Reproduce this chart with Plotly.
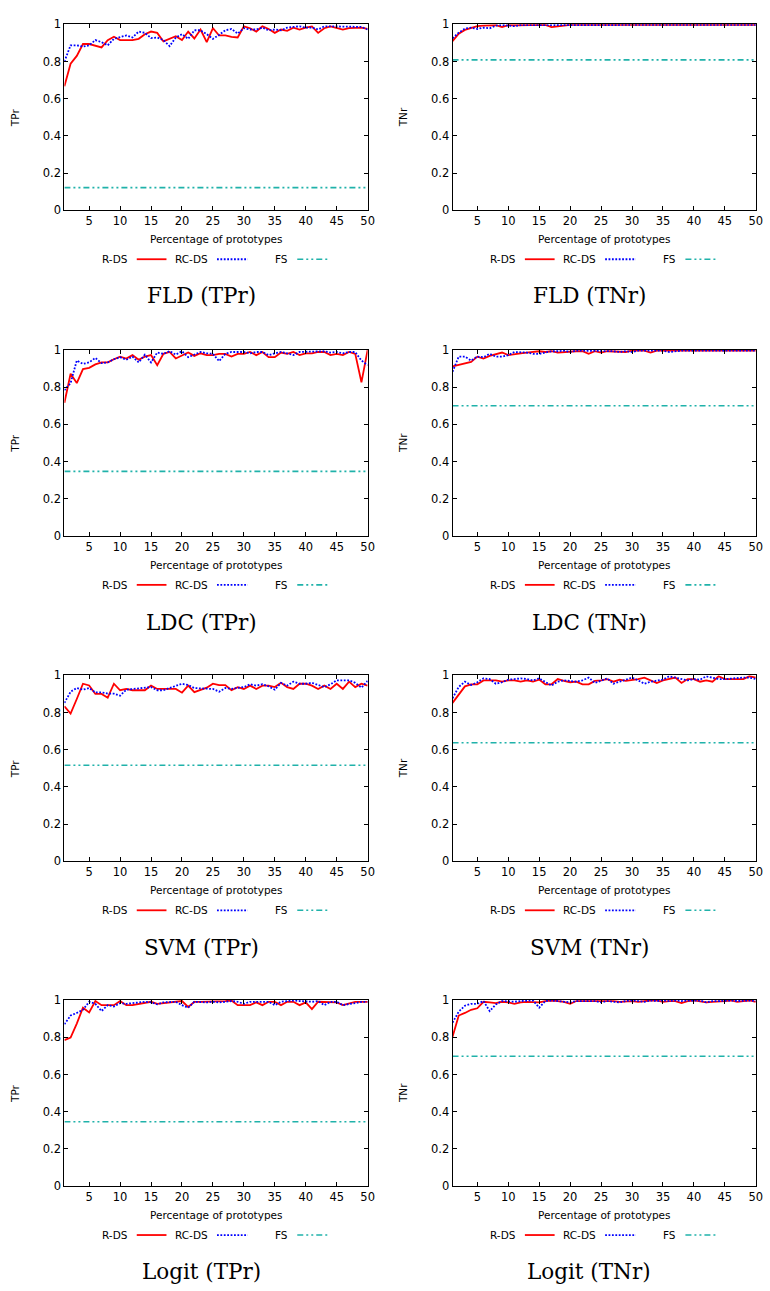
import plotly.graph_objects as go

# ---------------- data ----------------
x_pct = list(range(1, 51))
x_tick_vals = [5, 10, 15, 20, 25, 30, 35, 40, 45, 50]
y_tick_vals = [0, 0.2, 0.4, 0.6, 0.8, 1]
y_tick_text = ["0", "0.2", "0.4", "0.6", "0.8", "1"]

captions = ["FLD (TPr)", "FLD (TNr)", "LDC (TPr)", "LDC (TNr)",
            "SVM (TPr)", "SVM (TNr)", "Logit (TPr)", "Logit (TNr)"]
y_titles = ["TPr", "TNr", "TPr", "TNr", "TPr", "TNr", "TPr", "TNr"]
series_names = ["R-DS", "RC-DS", "FS"]

fld_tpr_rds = [0.667, 0.788, 0.830, 0.894, 0.894, 0.887, 0.876, 0.915, 0.933, 0.915,
               0.915, 0.915, 0.922, 0.947, 0.961, 0.954, 0.908, 0.922, 0.936, 0.915,
               0.961, 0.924, 0.972, 0.904, 0.979, 0.940, 0.940, 0.933, 0.929, 0.989,
               0.979, 0.961, 0.989, 0.975, 0.954, 0.972, 0.965, 0.982, 0.972, 0.982,
               0.989, 0.954, 0.979, 0.989, 0.979, 0.972, 0.979, 0.982, 0.982, 0.975]
fld_tpr_rcds = [0.800, 0.887, 0.887, 0.880, 0.887, 0.915, 0.904, 0.887, 0.922, 0.929,
                0.940, 0.929, 0.961, 0.954, 0.926, 0.929, 0.915, 0.883, 0.929, 0.947,
                0.922, 0.968, 0.968, 0.947, 0.922, 0.943, 0.968, 0.975, 0.950, 0.979,
                0.972, 0.972, 0.982, 0.968, 0.972, 0.968, 0.982, 0.986, 0.989, 0.982,
                0.982, 0.972, 0.989, 0.989, 0.989, 0.989, 0.989, 0.989, 0.986, 0.972]
fld_tpr_fs = 0.122

fld_tnr_rds = [0.910, 0.950, 0.970, 0.980, 0.990, 0.993, 0.996, 0.995, 0.985, 0.996,
               0.995, 0.996, 0.997, 0.997, 0.997, 0.997, 0.985, 0.990, 0.995, 0.997,
               0.997, 0.995, 0.997, 0.997, 0.997, 0.997, 0.997, 0.997, 0.997, 0.993,
               0.997, 0.997, 0.997, 0.997, 0.997, 0.997, 0.997, 0.997, 0.997, 0.997,
               0.997, 0.997, 0.997, 0.997, 0.997, 0.997, 0.997, 0.997, 0.997, 0.997]
fld_tnr_rcds = [0.925, 0.955, 0.977, 0.982, 0.975, 0.982, 0.979, 0.993, 0.996, 0.993,
                0.990, 0.996, 0.996, 0.996, 0.993, 0.996, 0.997, 0.996, 0.997, 0.997,
                0.997, 0.997, 0.997, 0.993, 0.997, 0.997, 0.993, 0.997, 0.997, 0.997,
                0.997, 0.997, 0.997, 0.997, 0.997, 0.997, 0.997, 0.997, 0.997, 0.997,
                0.997, 0.997, 0.997, 0.997, 0.997, 0.997, 0.997, 0.997, 0.997, 0.997]
fld_tnr_fs = 0.809

ldc_tpr_rds = [0.716, 0.872, 0.822, 0.897, 0.904, 0.922, 0.933, 0.933, 0.950, 0.964,
               0.954, 0.972, 0.947, 0.964, 0.972, 0.918, 0.979, 0.989, 0.954, 0.968,
               0.986, 0.968, 0.982, 0.972, 0.972, 0.979, 0.979, 0.964, 0.979, 0.979,
               0.989, 0.972, 0.989, 0.961, 0.961, 0.986, 0.979, 0.989, 0.972, 0.982,
               0.982, 0.989, 0.989, 0.972, 0.979, 0.972, 0.989, 0.979, 0.826, 1.000]
ldc_tpr_rcds = [0.783, 0.822, 0.943, 0.925, 0.933, 0.957, 0.929, 0.933, 0.950, 0.961,
                0.947, 0.964, 0.933, 0.975, 0.933, 0.986, 0.979, 0.993, 0.975, 0.993,
                0.961, 0.975, 0.989, 0.982, 0.979, 0.940, 0.979, 0.989, 0.989, 0.989,
                0.982, 0.989, 0.989, 0.972, 0.982, 0.989, 0.982, 0.972, 0.989, 0.989,
                0.989, 0.993, 0.993, 0.986, 0.989, 0.982, 0.989, 0.989, 0.943, 0.918]
ldc_tpr_fs = 0.347

ldc_tnr_rds = [0.911, 0.918, 0.925, 0.936, 0.964, 0.954, 0.968, 0.979, 0.986, 0.972,
               0.979, 0.982, 0.986, 0.989, 0.993, 0.989, 0.993, 0.986, 0.989, 0.989,
               0.993, 0.993, 0.979, 0.993, 0.986, 0.993, 0.993, 0.993, 0.989, 0.996,
               0.996, 0.996, 0.986, 0.996, 0.996, 0.996, 0.996, 0.996, 0.996, 0.996,
               0.996, 0.996, 0.996, 0.993, 0.996, 0.996, 0.993, 0.996, 0.996, 0.996]
ldc_tnr_rcds = [0.883, 0.964, 0.964, 0.943, 0.964, 0.961, 0.979, 0.964, 0.964, 0.972,
                0.989, 0.989, 0.986, 0.979, 0.979, 0.986, 0.993, 0.993, 0.996, 0.989,
                0.996, 0.996, 0.996, 0.996, 0.996, 0.996, 0.993, 0.989, 0.993, 0.989,
                0.996, 0.996, 0.996, 0.996, 0.996, 0.989, 0.993, 0.996, 0.996, 0.996,
                0.996, 0.996, 0.996, 0.993, 0.996, 0.996, 0.996, 0.996, 0.996, 0.996]
ldc_tnr_fs = 0.700

svm_tpr_rds = [0.834, 0.795, 0.873, 0.955, 0.946, 0.900, 0.900, 0.880, 0.955, 0.920,
               0.927, 0.920, 0.920, 0.920, 0.945, 0.927, 0.927, 0.927, 0.927, 0.907,
               0.945, 0.910, 0.920, 0.934, 0.955, 0.948, 0.948, 0.920, 0.937, 0.927,
               0.945, 0.927, 0.945, 0.945, 0.937, 0.960, 0.937, 0.927, 0.955, 0.955,
               0.945, 0.927, 0.945, 0.927, 0.955, 0.927, 0.966, 0.937, 0.955, 0.945]
svm_tpr_rcds = [0.852, 0.912, 0.932, 0.923, 0.932, 0.909, 0.909, 0.902, 0.902, 0.891,
                0.923, 0.927, 0.932, 0.932, 0.937, 0.920, 0.920, 0.932, 0.945, 0.955,
                0.948, 0.932, 0.930, 0.930, 0.927, 0.912, 0.932, 0.927, 0.932, 0.937,
                0.952, 0.945, 0.952, 0.941, 0.923, 0.960, 0.945, 0.966, 0.955, 0.955,
                0.960, 0.948, 0.937, 0.952, 0.973, 0.973, 0.973, 0.960, 0.934, 0.970]
svm_tpr_fs = 0.517

svm_tnr_rds = [0.852, 0.895, 0.941, 0.952, 0.952, 0.973, 0.973, 0.973, 0.966, 0.973,
               0.973, 0.966, 0.973, 0.966, 0.977, 0.952, 0.952, 0.980, 0.970, 0.963,
               0.966, 0.952, 0.952, 0.970, 0.973, 0.980, 0.966, 0.977, 0.970, 0.973,
               0.980, 0.988, 0.973, 0.959, 0.973, 0.980, 0.988, 0.959, 0.980, 0.980,
               0.966, 0.973, 0.966, 0.995, 0.980, 0.980, 0.980, 0.980, 0.995, 0.988]
svm_tnr_rcds = [0.877, 0.938, 0.966, 0.948, 0.963, 0.984, 0.980, 0.955, 0.963, 0.977,
                0.980, 0.984, 0.980, 0.973, 0.984, 0.966, 0.945, 0.966, 0.973, 0.970,
                0.966, 0.973, 0.988, 0.959, 0.973, 0.984, 0.955, 0.966, 0.977, 0.988,
                0.973, 0.955, 0.966, 0.970, 0.977, 0.995, 0.988, 0.980, 0.973, 0.980,
                0.977, 0.995, 0.988, 0.980, 0.980, 0.984, 0.984, 0.988, 0.988, 0.980]
svm_tnr_fs = 0.638

logit_tpr_rds = [0.785, 0.799, 0.874, 0.959, 0.934, 0.995, 0.973, 0.973, 0.973, 0.995,
                 0.973, 0.973, 0.980, 0.984, 0.991, 0.980, 0.984, 0.991, 0.991, 0.995,
                 0.963, 0.991, 0.991, 0.991, 0.991, 0.991, 0.995, 0.998, 0.973, 0.973,
                 0.973, 0.988, 0.973, 0.991, 0.991, 0.973, 0.991, 0.991, 0.973, 0.988,
                 0.952, 0.991, 0.991, 0.991, 0.988, 0.973, 0.984, 0.991, 0.991, 0.991]
logit_tpr_rcds = [0.870, 0.917, 0.931, 0.948, 0.991, 0.980, 0.941, 0.973, 0.966, 0.984,
                  0.980, 0.984, 0.988, 0.991, 0.988, 0.977, 0.988, 0.991, 0.991, 0.973,
                  0.959, 0.991, 0.988, 0.988, 0.991, 0.988, 0.991, 0.995, 0.991, 0.980,
                  0.991, 0.991, 0.991, 0.991, 0.973, 0.991, 0.995, 0.998, 0.995, 0.991,
                  0.991, 0.995, 0.973, 0.991, 0.991, 0.973, 0.977, 0.984, 0.991, 0.991]
logit_tpr_fs = 0.346

logit_tnr_rds = [0.803, 0.917, 0.931, 0.948, 0.956, 0.991, 0.988, 0.984, 0.991, 0.988,
                 0.980, 0.988, 0.991, 0.991, 0.988, 0.995, 0.998, 0.995, 0.991, 0.980,
                 0.995, 0.995, 0.995, 0.998, 0.998, 0.998, 0.995, 0.991, 0.995, 0.995,
                 0.991, 0.995, 0.998, 0.998, 0.991, 0.995, 0.995, 0.984, 0.995, 0.998,
                 0.995, 0.988, 0.991, 0.995, 0.995, 0.998, 0.991, 0.995, 0.998, 0.991]
logit_tnr_rcds = [0.879, 0.938, 0.970, 0.980, 0.980, 0.995, 0.941, 0.977, 0.995, 0.991,
                  0.991, 0.995, 0.998, 0.998, 0.959, 0.995, 0.998, 0.995, 0.991, 0.988,
                  0.995, 0.995, 0.995, 0.995, 0.988, 0.995, 0.991, 0.988, 0.995, 0.998,
                  0.995, 0.991, 0.998, 0.995, 0.998, 0.995, 0.998, 0.995, 0.998, 0.998,
                  0.998, 0.988, 0.995, 0.995, 0.998, 0.998, 0.995, 0.998, 0.998, 0.995]
logit_tnr_fs = 0.698

panels_rds = [fld_tpr_rds, fld_tnr_rds, ldc_tpr_rds, ldc_tnr_rds,
              svm_tpr_rds, svm_tnr_rds, logit_tpr_rds, logit_tnr_rds]
panels_rcds = [fld_tpr_rcds, fld_tnr_rcds, ldc_tpr_rcds, ldc_tnr_rcds,
               svm_tpr_rcds, svm_tnr_rcds, logit_tpr_rcds, logit_tnr_rcds]
panels_fs = [fld_tpr_fs, fld_tnr_fs, ldc_tpr_fs, ldc_tnr_fs,
             svm_tpr_fs, svm_tnr_fs, logit_tpr_fs, logit_tnr_fs]

# ---------------- layout / style ----------------
W, H = 770, 1291
COL_LEFT = [65, 456.7]
PLOT_W = 306
ROW_TOP = [17.5, 346.7, 675.7, 1004]
PLOT_H = 188
CAPTION_Y = [292, 622, 951, 1278]

RED = "#ff0000"
BLUE = "#0000ff"
TEAL = "#20b2aa"
DASH_DOT = "1.8px,1.6px"
DASH_FS = "6px,3px,2px,3px,2px,3px"
SANS = "DejaVu Sans"
SERIF = "DejaVu Serif"


def px(xp):
    return xp / W


def py(yp):
    return 1 - yp / H


fig = go.Figure()
annotations = []
shapes = []

for i in range(8):
    r, c = divmod(i, 2)
    left = COL_LEFT[c]
    top = ROW_TOP[r]
    bottom = top + PLOT_H
    k = "" if i == 0 else str(i + 1)
    xa, ya = "x" + k, "y" + k

    fig.add_trace(go.Scatter(x=x_pct, y=panels_rds[i], mode="lines", name=series_names[0],
                             line=dict(color=RED, width=1.8), xaxis=xa, yaxis=ya,
                             showlegend=False))
    fig.add_trace(go.Scatter(x=x_pct, y=panels_rcds[i], mode="lines", name=series_names[1],
                             line=dict(color=BLUE, width=1.8, dash=DASH_DOT), xaxis=xa, yaxis=ya,
                             showlegend=False))
    fig.add_trace(go.Scatter(x=[x_pct[0], x_pct[-1]], y=[panels_fs[i]] * 2, mode="lines",
                             name=series_names[2],
                             line=dict(color=TEAL, width=1.6, dash=DASH_FS), xaxis=xa, yaxis=ya,
                             showlegend=False))

    common = dict(showline=True, linecolor="black", linewidth=1, mirror="allticks",
                  ticks="inside", ticklen=4, tickwidth=1, tickcolor="black",
                  showgrid=False, zeroline=False,
                  tickfont=dict(family=SANS, size=11.5, color="black"))
    fig.layout["xaxis" + k] = dict(domain=[px(left), px(left + PLOT_W)], anchor=ya,
                                   range=[1, 50], tickvals=x_tick_vals, **common)
    fig.layout["yaxis" + k] = dict(domain=[py(bottom), py(top)], anchor=xa,
                                   range=[0, 1], tickvals=y_tick_vals, ticktext=y_tick_text,
                                   **common)

    # axis titles
    annotations.append(dict(x=px(left + PLOT_W / 2), y=py(bottom + 29), xref="paper", yref="paper",
                            text="Percentage of prototypes", showarrow=False,
                            font=dict(family=SANS, size=10.5, color="black"),
                            xanchor="center", yanchor="middle"))
    annotations.append(dict(x=px(left - 50), y=py(top + PLOT_H / 2), xref="paper", yref="paper",
                            text=y_titles[i], showarrow=False, textangle=-90,
                            font=dict(family=SANS, size=10.5, color="black"),
                            xanchor="center", yanchor="middle"))
    # caption
    annotations.append(dict(x=px(left + 138), y=py(CAPTION_Y[r]), xref="paper", yref="paper",
                            text=captions[i], showarrow=False,
                            font=dict(family=SERIF, size=21.5, color="black"),
                            xanchor="center", yanchor="middle"))

    # legend (gnuplot style: label then sample)
    ly = bottom + 49.5
    leg = [(series_names[0], 66, 73, 103, RED, "solid", 1.8),
           (series_names[1], 147, 154, 185, BLUE, DASH_DOT, 1.8),
           (series_names[2], 228, 235, 267, TEAL, DASH_FS, 1.6)]
    for name, txt_end, s0, s1, col, dash, wdt in leg:
        annotations.append(dict(x=px(left + txt_end), y=py(ly), xref="paper", yref="paper",
                                text=name, showarrow=False,
                                font=dict(family=SANS, size=10.5, color="black"),
                                xanchor="right", yanchor="middle"))
        shapes.append(dict(type="line", xref="paper", yref="paper",
                           x0=px(left + s0), x1=px(left + s1), y0=py(ly), y1=py(ly),
                           line=dict(color=col, width=wdt, dash=dash)))

fig.update_layout(width=W, height=H, margin=dict(l=0, r=0, t=0, b=0),
                  paper_bgcolor="white", plot_bgcolor="white",
                  annotations=annotations, shapes=shapes, showlegend=False,
                  hovermode=False)

fig.write_html("out.html",
               config={"displayModeBar": False},
               post_script="document.body.style.margin='0';"
                           "document.body.style.overflow='hidden';")
